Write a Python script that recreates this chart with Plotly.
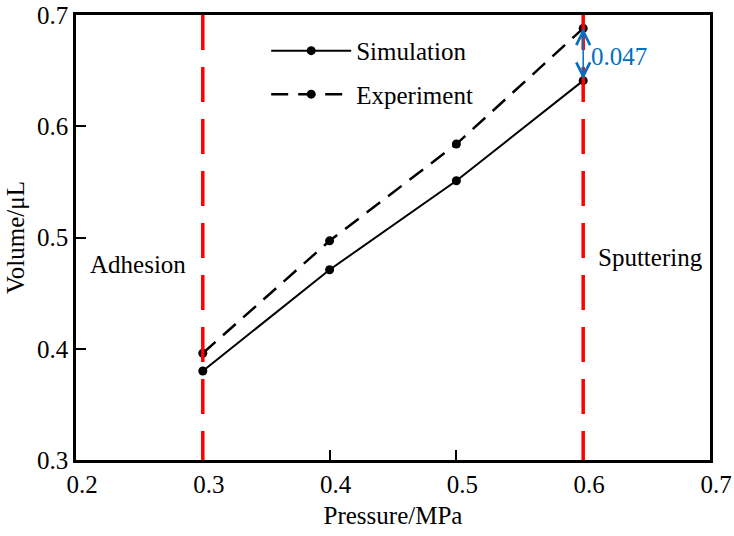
import plotly.graph_objects as go

pressure = [0.3, 0.4, 0.5, 0.6]
simulation = [0.380, 0.471, 0.551, 0.641]
experiment = [0.396, 0.497, 0.584, 0.688]
regime_bounds = [0.3, 0.6]
regime_labels = ["Adhesion", "Sputtering"]
x_ticks = [0.2, 0.3, 0.4, 0.5, 0.6, 0.7]
y_ticks = [0.3, 0.4, 0.5, 0.6, 0.7]

FONT = "Liberation Serif"
FS = 25
BLUE = "#0070C0"

fig = go.Figure()
fig.add_trace(go.Scatter(
    x=pressure, y=simulation, name="Simulation", mode="lines+markers", legendgroup="s",
    line=dict(color="black", width=2), marker=dict(color="black", size=9)))
fig.add_trace(go.Scatter(
    x=pressure, y=experiment, name="Experiment", mode="lines+markers", legendgroup="e",
    line=dict(color="black", width=2.5, dash="17px,10px"),
    marker=dict(color="black", size=9)))

for xb in regime_bounds:
    fig.add_shape(type="line", x0=xb, x1=xb, y0=1, y1=0, xref="x", yref="y domain",
                  line=dict(color="red", width=3.5, dash="35px,17px"), layer="above")

fig.add_annotation(x=0.249, y=0.476, text=regime_labels[0], showarrow=False,
                   font=dict(family=FONT, size=FS, color="black"))
fig.add_annotation(x=0.653, y=0.482, text=regime_labels[1], showarrow=False,
                   font=dict(family=FONT, size=FS, color="black"))

# double-headed difference arrow
diff = experiment[-1] - simulation[-1]
fig.add_annotation(x=pressure[-1], y=experiment[-1], ax=pressure[-1], ay=simulation[-1],
                   xref="x", yref="y", axref="x", ayref="y", text="",
                   showarrow=True, arrowhead=5, startarrowhead=5, arrowside="end+start",
                   arrowsize=1.8, startarrowsize=1.8, arrowwidth=1.5, arrowcolor=BLUE)
fig.add_annotation(x=0.6045, y=(experiment[-1] + simulation[-1]) / 2 - 0.002, text=f"{diff:.3f}",
                   xanchor="left", showarrow=False, font=dict(family=FONT, size=FS, color=BLUE))

axis_common = dict(showline=True, linecolor="black", linewidth=2.5, mirror=True,
                   ticks="inside", ticklen=10, tickwidth=2, tickcolor="black",
                   showgrid=False, zeroline=False, automargin=False,
                   tickfont=dict(family=FONT, size=FS, color="black"))

fig.update_xaxes(range=[0.2, 0.7], tickvals=x_ticks, ticktext=[f"{v:.1f}" for v in x_ticks],
                 title=dict(text="Pressure/MPa", font=dict(family=FONT, size=FS, color="black"),
                            standoff=10),
                 ticklabelshift=6, **axis_common)
fig.update_yaxes(range=[0.3, 0.7], tickvals=y_ticks, ticktext=[f"{v:.1f}" for v in y_ticks],
                 title=dict(text="Volume/μL", font=dict(family=FONT, size=FS, color="black"),
                            standoff=6),
                 **axis_common)

fig.update_layout(
    width=734, height=536,
    margin=dict(l=76, r=24, t=15, b=76),
    plot_bgcolor="white", paper_bgcolor="white",
    legend=dict(x=0.3, y=0.971, xanchor="left", yanchor="top",
                bgcolor="rgba(0,0,0,0)", font=dict(family=FONT, size=FS, color="black"),
                tracegroupgap=8, itemwidth=80),
    showlegend=True,
)

fig.write_html("out.html")
